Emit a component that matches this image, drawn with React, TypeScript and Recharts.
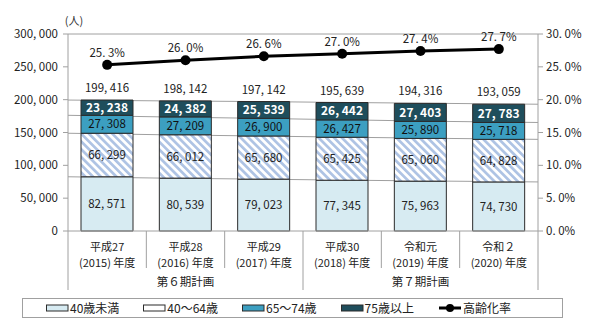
import React from "react";
import { ComposedChart, Bar, Line, XAxis, YAxis, LabelList, Legend, ReferenceLine } from "recharts";

const eraLabels = ["平成27", "平成28", "平成29", "平成30", "令和元", "令和２"];
const yearLabels = ["(2015) 年度", "(2016) 年度", "(2017) 年度", "(2018) 年度", "(2019) 年度", "(2020) 年度"];
const planLabels = ["第６期計画", "第７期計画"];

const under40 = [82571, 80539, 79023, 77345, 75963, 74730];
const age40to64 = [66299, 66012, 65680, 65425, 65060, 64828];
const age65to74 = [27308, 27209, 26900, 26427, 25890, 25718];
const age75plus = [23238, 24382, 25539, 26442, 27403, 27783];
const totals = [199416, 198142, 197142, 195639, 194316, 193059];
const agingRate = [25.3, 26.0, 26.6, 27.0, 27.4, 27.7];

const leftTicks = [0, 50000, 100000, 150000, 200000, 250000, 300000];
const rightTicks = [0, 5, 10, 15, 20, 25, 30];

const seriesNames = ["40歳未満", "40～64歳", "65～74歳", "75歳以上", "高齢化率"];

const COL_U40 = "#d7ebf2";
const COL_65 = "#3c9fc1";
const COL_75 = "#1f4e5c";
const COL_HATCH = "#aec3e4";
const EDGE = "#2b2b2b";
const GRAY = "#a0a0a0";
const FONT = "'Noto Sans CJK JP', 'Noto Sans', sans-serif";

const data = eraLabels.map((name, i) => ({
  name,
  year: yearLabels[i],
  u40: under40[i],
  a40: age40to64[i],
  a65: age65to74[i],
  a75: age75plus[i],
  total: totals[i],
  rate: agingRate[i],
  c1: under40[i],
  c2: under40[i] + age40to64[i],
  c3: under40[i] + age40to64[i] + age65to74[i],
  c4: totals[i],
}));

const fmtNum = (v: any) => Number(v).toLocaleString("en-US").replace(/,/g, ", ");
const fmtPct = (v: any) => Number(v).toFixed(1).replace(".", ". ") + "%";

function CategoryTick(props: any) {
  const { x, y, payload, width, visibleTicksCount } = props;
  const i = payload.index;
  const half = payload.offset || width / visibleTicksCount / 2;
  const edge = i === 0 || i === 3;
  return (
    <g>
      <line x1={x - half} x2={x - half} y1={y} y2={y + (edge ? 59 : 37)} stroke={GRAY} />
      {i === 5 && <line x1={x + half} x2={x + half} y1={y} y2={y + 59} stroke={GRAY} />}
      <text x={x} y={y + 20} textAnchor="middle" fontSize={11} fill="#222">{eraLabels[i]}</text>
      <text x={x} y={y + 36} textAnchor="middle" fontSize={11} fill="#222">{yearLabels[i]}</text>
      {i === 1 && <text x={x} y={y + 55} textAnchor="middle" fontSize={11.5} fill="#222">{planLabels[0]}</text>}
      {i === 4 && <text x={x} y={y + 55} textAnchor="middle" fontSize={11.5} fill="#222">{planLabels[1]}</text>}
    </g>
  );
}

function TotalLabel(props: any) {
  const { x, y, width, index } = props;
  return (
    <text x={x + width / 2} y={y - 8} textAnchor="middle" fontSize={11.5} fill="#222">
      {fmtNum(totals[index])}
    </text>
  );
}

function LegendBox() {
  const icon = (k: number) => {
    if (k === 4) {
      return (
        <svg width={24} height={10}>
          <line x1={1} x2={23} y1={5} y2={5} stroke="#000" strokeWidth={3} />
          <circle cx={12} cy={5} r={4} fill="#000" />
        </svg>
      );
    }
    const fills = [COL_U40, "url(#hatchIcon)", COL_65, COL_75];
    return (
      <svg width={23} height={10}>
        <defs>
          <pattern id="hatchIcon" patternUnits="userSpaceOnUse" width={5} height={5} patternTransform="rotate(-45)">
            <rect width={5} height={5} fill="#fff" />
            <rect width={2.5} height={5} fill={COL_HATCH} />
          </pattern>
        </defs>
        <rect x={0.5} y={2} width={21.5} height={6} fill={fills[k]} stroke={EDGE} />
      </svg>
    );
  };
  return (
    <div style={{ boxSizing: "border-box", height: 20, width: 541, border: `1px solid ${GRAY}`, display: "flex", alignItems: "center", paddingLeft: 23, gap: 24, fontFamily: FONT, fontSize: 12, color: "#222" }}>
      {seriesNames.map((n, k) => (
        <div key={n} style={{ display: "flex", alignItems: "center", gap: 1, lineHeight: "14px" }}>
          {icon(k)}
          <span>{n}</span>
        </div>
      ))}
    </div>
  );
}

const margin = { top: 34, right: 0, bottom: 12, left: 0 };

function axes(show: boolean) {
  return [
    <XAxis key="x" dataKey="name" xAxisId="x" interval={0} height={67} tickSize={0} tickMargin={0}
      axisLine={show ? { stroke: GRAY } : false} tickLine={false} tick={show ? <CategoryTick /> : false} />,
    <YAxis key="yl" yAxisId="left" width={68} domain={[0, 300000]} ticks={leftTicks} tickFormatter={fmtNum}
      tickSize={5} tickMargin={5} axisLine={show ? { stroke: GRAY } : false} tickLine={show ? { stroke: GRAY } : false}
      tick={show ? { fill: "#222", fontSize: 11.5 } : false}
      label={show ? { content: ({ viewBox }: any) => (
        <text x={viewBox.x + viewBox.width + 6} y={viewBox.y - 9} fontSize={11} fill="#333" textAnchor="middle">(人)</text>
      ) } : undefined} />,
    <YAxis key="yr" yAxisId="right" orientation="right" width={62} domain={[0, 30]} ticks={rightTicks} tickFormatter={fmtPct}
      tickSize={5} tickMargin={3} axisLine={show ? { stroke: GRAY } : false} tickLine={show ? { stroke: GRAY } : false}
      tick={show ? { fill: "#222", fontSize: 11.5 } : false} />,
    <Legend key="lg" verticalAlign="bottom" align="left" content={() => <LegendBox />}
      wrapperStyle={{ left: 22, width: 541, visibility: show ? "visible" : "hidden" }} />,
  ];
}

export default function App() {
  return (
    <div style={{ position: "absolute", left: 0, top: 0, width: 600, height: 330, background: "#fff", fontFamily: FONT }}>
      {/* connector lines drawn underneath the bars */}
      <div style={{ position: "absolute", left: 0, top: 0 }}>
        <ComposedChart width={600} height={330} data={data} margin={margin}>
          {axes(false)}
          {["c1", "c2", "c3", "c4"].map((k) => (
            <Line key={k} xAxisId="x" yAxisId="left" type="linear" dataKey={k} stroke={GRAY} strokeWidth={1} dot={false} isAnimationActive={false} legendType="none" />
          ))}
        </ComposedChart>
      </div>
      <div style={{ position: "absolute", left: 0, top: 0 }}>
        <ComposedChart width={600} height={330} data={data} margin={margin}>
          <defs>
            <pattern id="hatch" patternUnits="userSpaceOnUse" width={5.5} height={5.5} patternTransform="rotate(-45)">
              <rect width={5.5} height={5.5} fill="#fff" />
              <rect width={2.7} height={5.5} fill={COL_HATCH} />
            </pattern>
          </defs>
          {axes(true)}
          <ReferenceLine xAxisId="x" yAxisId="left" y={300000} stroke={GRAY} />
          <Bar xAxisId="x" yAxisId="left" dataKey="u40" stackId="s" barSize={52} fill={COL_U40} stroke={EDGE} isAnimationActive={false}>
            <LabelList dataKey="u40" position="center" formatter={fmtNum} fill="#222" fontSize={11.5} />
          </Bar>
          <Bar xAxisId="x" yAxisId="left" dataKey="a40" stackId="s" barSize={52} fill="url(#hatch)" stroke={EDGE} isAnimationActive={false}>
            <LabelList dataKey="a40" position="center" formatter={fmtNum} fill="#222" fontSize={11.5} />
          </Bar>
          <Bar xAxisId="x" yAxisId="left" dataKey="a65" stackId="s" barSize={52} fill={COL_65} stroke={EDGE} isAnimationActive={false}>
            <LabelList dataKey="a65" position="center" formatter={fmtNum} fill="#111" fontSize={11.5} />
          </Bar>
          <Bar xAxisId="x" yAxisId="left" dataKey="a75" stackId="s" barSize={52} fill={COL_75} stroke={EDGE} isAnimationActive={false}>
            <LabelList dataKey="a75" position="center" formatter={fmtNum} fill="#fff" fontSize={12} fontWeight="bold" />
            <LabelList dataKey="total" content={<TotalLabel />} />
          </Bar>
          <Line xAxisId="x" yAxisId="right" type="linear" dataKey="rate" stroke="#000" strokeWidth={3}
            dot={{ r: 5, fill: "#000", stroke: "#000", strokeWidth: 0 }} isAnimationActive={false}>
            <LabelList dataKey="rate" position="top" offset={8} formatter={fmtPct} fill="#222" fontSize={11.5} />
          </Line>
        </ComposedChart>
      </div>
    </div>
  );
}
